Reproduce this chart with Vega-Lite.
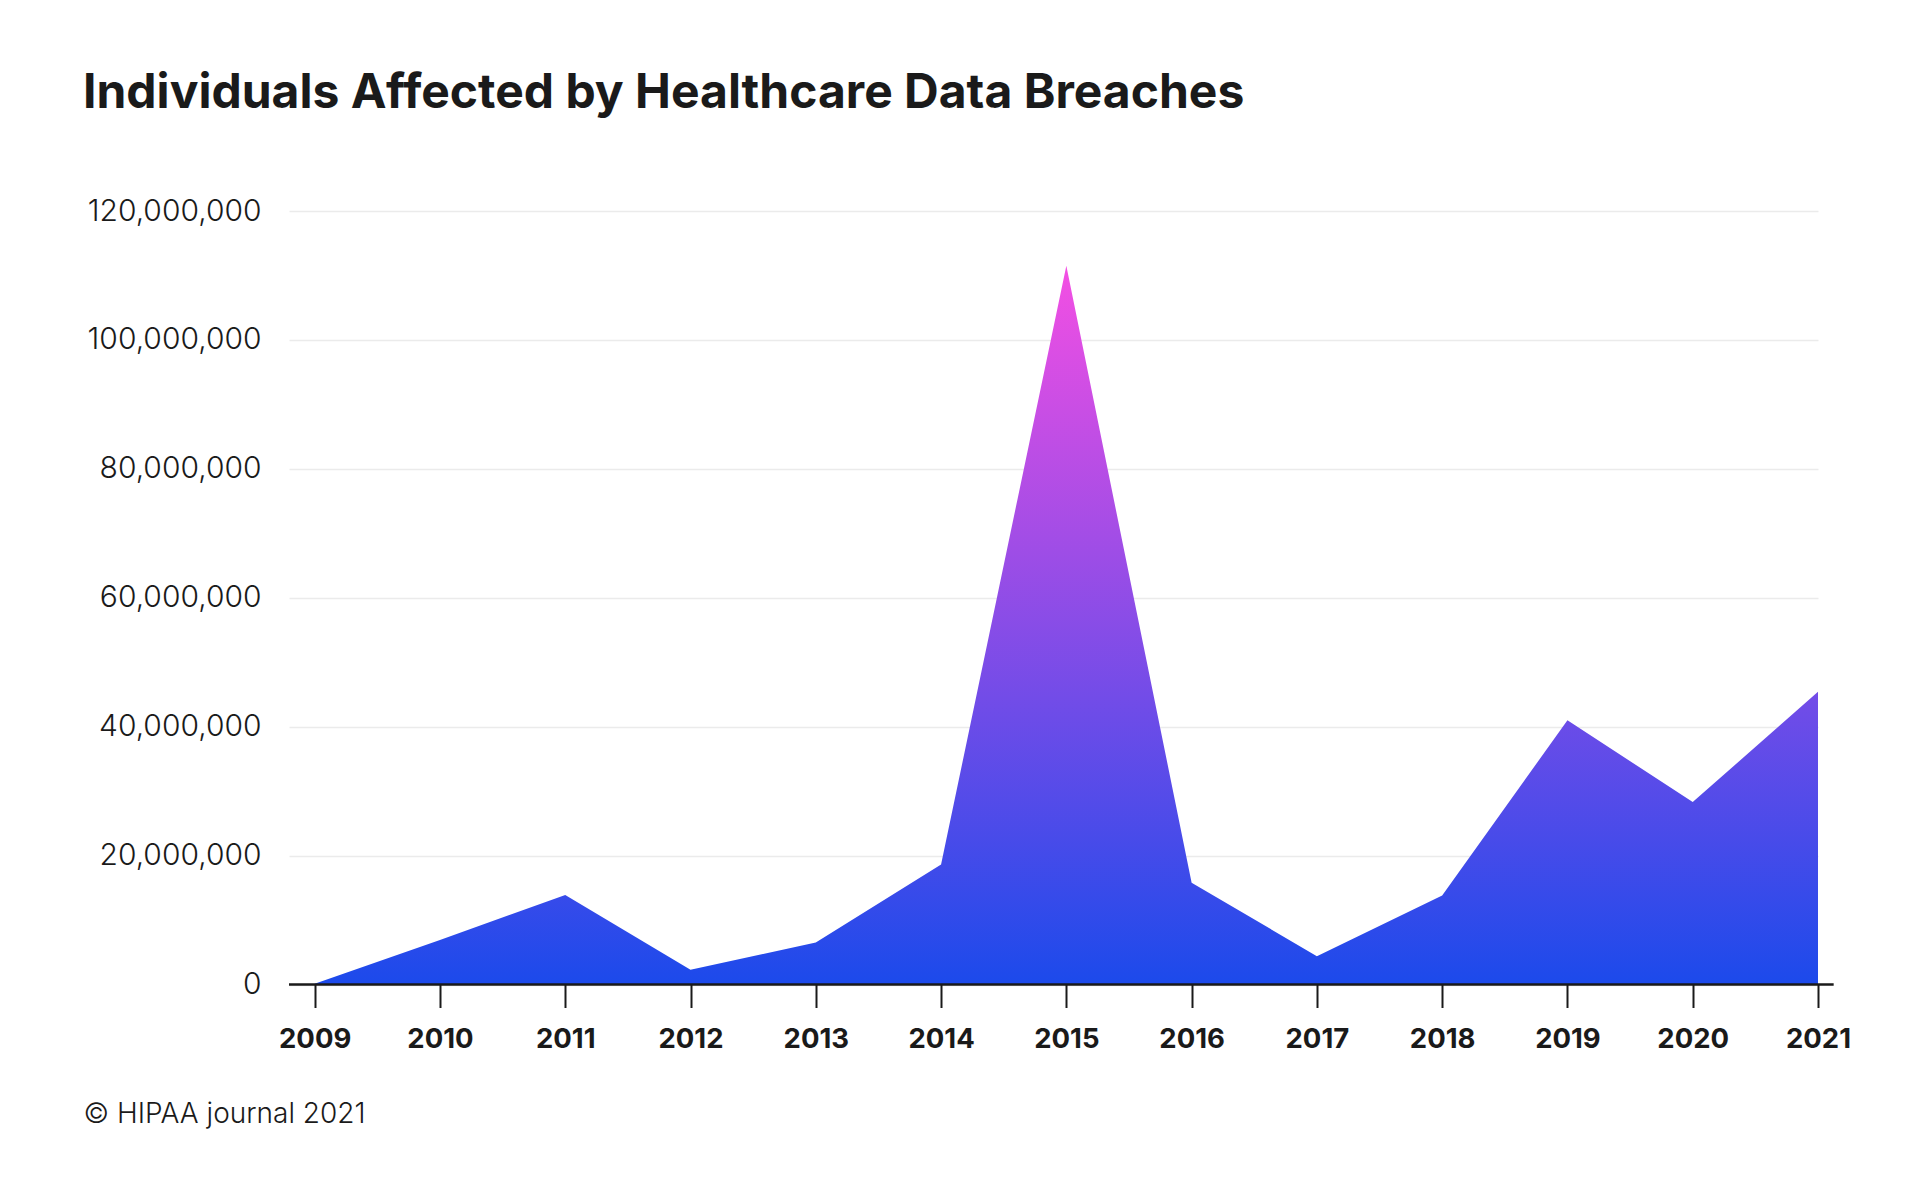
{
  "$schema": "https://vega.github.io/schema/vega-lite/v6.json",
  "autosize": {"type": "none"},
  "padding": {"left": 289, "top": 211, "right": 102, "bottom": 195},
  "width": 1529,
  "height": 773.5,
  "background": "#ffffff",
  "title": {
    "text": "Individuals Affected by Healthcare Data Breaches",
    "anchor": "start",
    "frame": "group",
    "dx": -206,
    "font": "Inter",
    "fontSize": 48,
    "fontWeight": 700,
    "color": "#1a1a1a",
    "baseline": "alphabetic",
    "offset": 40
  },
  "config": {
    "view": {"stroke": null},
    "font": "Inter"
  },
  "datasets": {
    "breaches": [
      {"year": 2009, "individuals": 135000},
      {"year": 2010, "individuals": 6900000},
      {"year": 2011, "individuals": 13900000},
      {"year": 2012, "individuals": 2300000},
      {"year": 2013, "individuals": 6500000},
      {"year": 2014, "individuals": 18600000},
      {"year": 2015, "individuals": 111500000},
      {"year": 2016, "individuals": 15800000},
      {"year": 2017, "individuals": 4400000},
      {"year": 2018, "individuals": 13800000},
      {"year": 2019, "individuals": 41000000},
      {"year": 2020, "individuals": 28300000},
      {"year": 2021, "individuals": 45400000}
    ],
    "baseline": [
      {"from": 2008.795, "to": 2021.125, "value": 0}
    ]
  },
  "layer": [
    {
      "data": {"name": "breaches"},
      "mark": {
        "type": "area",
        "line": false,
        "color": {
          "gradient": "linear",
          "x1": 0, "y1": 1, "x2": 0, "y2": 0,
          "stops": [
            {"offset": 0, "color": "#1c4aeb"},
            {"offset": 1, "color": "#f44fe3"}
          ]
        }
      },
      "encoding": {
        "x": {
          "field": "year",
          "type": "quantitative",
          "scale": {"domain": [2008.795, 2021], "nice": false, "zero": false},
          "axis": {
            "values": [2009, 2010, 2011, 2012, 2013, 2014, 2015, 2016, 2017, 2018, 2019, 2020, 2021],
            "format": "d",
            "domain": false,
            "grid": false,
            "ticks": true,
            "tickSize": 23,
            "tickWidth": 2,
            "tickColor": "#1a1a1a",
            "labelFont": "Inter",
            "labelFontSize": 27.5,
            "labelFontWeight": 700,
            "labelColor": "#1a1a1a",
            "labelPadding": 18,
            "labelFlush": false,
            "labelOverlap": false,
            "title": "© HIPAA journal 2021",
            "titleFont": "Inter",
            "titleFontSize": 28,
            "titleFontWeight": 300,
            "titleColor": "#1a1a1a",
            "titleAnchor": "start",
            "titleAlign": "left",
            "titleBaseline": "alphabetic",
            "titleX": -206,
            "titleY": 138
          }
        },
        "y": {
          "field": "individuals",
          "type": "quantitative",
          "scale": {"domain": [0, 120000000], "nice": false},
          "axis": {
            "values": [0, 20000000, 40000000, 60000000, 80000000, 100000000, 120000000],
            "format": ",d",
            "domain": false,
            "ticks": false,
            "grid": true,
            "gridColor": "#ebebeb",
            "gridWidth": 1.5,
            "labelFont": "Inter",
            "labelFontSize": 30,
            "labelFontWeight": 300,
            "labelColor": "#1a1a1a",
            "labelPadding": 28,
            "title": null
          }
        }
      }
    },
    {
      "data": {"name": "baseline"},
      "mark": {"type": "rule", "color": "#1a1a1a", "strokeWidth": 2.5, "clip": false},
      "encoding": {
        "x": {"field": "from", "type": "quantitative"},
        "x2": {"field": "to"},
        "y": {"field": "value", "type": "quantitative"}
      }
    }
  ]
}
